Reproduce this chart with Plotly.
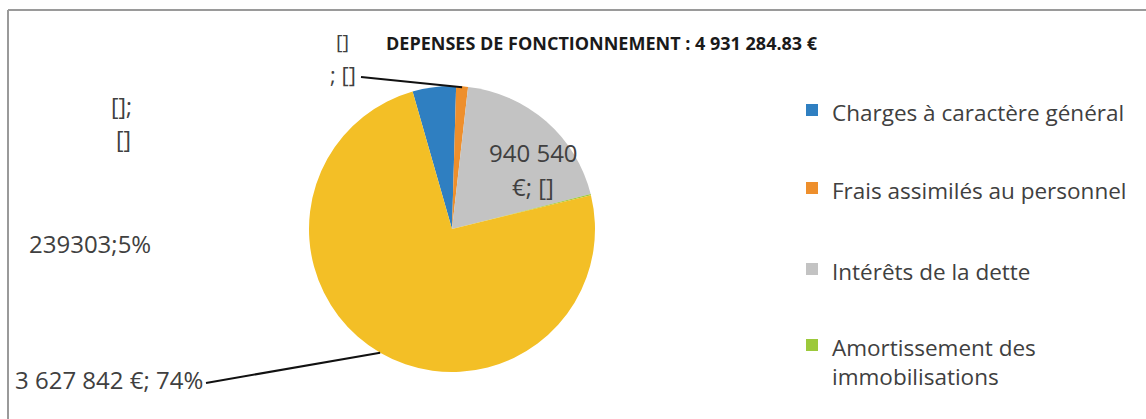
import math
import plotly.graph_objects as go

# ---- data ----
categories = ["Charges à caractère général", "Frais assimilés au personnel",
              "Intérêts de la dette", "Amortissement des immobilisations",
              "Charges de personnel"]
values = [239303, 65000, 940540, 6000, 3627842]
colors = ["#2F7FC1", "#EE8F2C", "#C3C3C3", "#9CC93B", "#F3BF26"]
legend_labels = ["Charges à caractère général", "Frais assimilés au personnel",
                 "Intérêts de la dette", "Amortissement des<br>immobilisations"]
title_text = "DEPENSES DE FONCTIONNEMENT : 4 931 284.83 €"
label_blue = "239303;5%"
label_gray = ["940 540", "€; []"]
label_yellow = "3 627 842 €; 74%"
label_orange = "; []"
label_green = ["[];", "[]"]
label_title_left = "[]"

W, H = 1146, 419
FONT = "Open Sans"
TXT = "#404040"

# pie geometry (pixels)
CX, CY, R = 452, 229, 143
ROT = -16


def px(x):
    return x / W


def py(y):
    return 1 - y / H


fig = go.Figure()
fig.add_trace(go.Pie(
    labels=categories, values=values, sort=False, direction="clockwise",
    rotation=ROT, textinfo="none", hoverinfo="label+value+percent",
    marker=dict(colors=colors, line=dict(width=0)),
    showlegend=False,
    domain=dict(x=[px(CX - R), px(CX + R)], y=[py(CY + R), py(CY - R)]),
))

total = sum(values)


def edge_point(idx):
    start = ROT + sum(values[:idx]) / total * 360
    mid = start + values[idx] / total * 360 / 2
    a = math.radians(mid)
    return CX + R * math.sin(a), CY - R * math.cos(a)


ann = []
shapes = []


def add_text(text, x, y, size=24, xanchor="center", bold=False, color=TXT):
    ann.append(dict(text=f"<b>{text}</b>" if bold else text, x=px(x), y=py(y),
                    xref="paper", yref="paper", showarrow=False,
                    xanchor=xanchor, yanchor="middle",
                    font=dict(family=FONT, size=size, color=color)))


# title
add_text(label_title_left, 343, 42, size=20)
add_text(title_text, 384, 43, size=18, xanchor="left", bold=True, color="#1a1a1a")

# data labels
add_text(label_orange, 343, 74, size=22)
ox, oy = edge_point(1)
shapes.append(dict(type="line", xref="paper", yref="paper",
                   x0=px(361), y0=py(77), x1=px(ox), y1=py(oy + 1),
                   line=dict(color="#111111", width=2)))

add_text(label_green[0], 121, 106, size=23)
add_text(label_green[1], 123, 139, size=23)
add_text(label_blue, 27, 243, size=24, xanchor="left")
add_text(label_gray[0], 533, 152, size=24)
add_text(label_gray[1], 533, 186, size=24)
add_text(label_yellow, 13, 379, size=24, xanchor="left")
yx, yy = edge_point(4)
shapes.append(dict(type="line", xref="paper", yref="paper",
                   x0=px(206), y0=py(383), x1=px(yx), y1=py(yy),
                   line=dict(color="#111111", width=2)))

# legend
leg_y = [110, 188, 269, 345]
for i, lab in enumerate(legend_labels):
    y = leg_y[i]
    shapes.append(dict(type="rect", xref="paper", yref="paper",
                       x0=px(806), x1=px(818), y0=py(y + 6), y1=py(y - 6),
                       fillcolor=colors[i], line=dict(width=0)))
    ann.append(dict(text=lab, x=px(830), y=py(y - 15), xref="paper", yref="paper",
                    showarrow=False, xanchor="left", yanchor="top", align="left",
                    font=dict(family=FONT, size=22.5, color=TXT)))

# chart frame (top & left edges)
shapes.append(dict(type="line", xref="paper", yref="paper",
                   x0=px(8), x1=1, y0=py(10), y1=py(10),
                   line=dict(color="#9a9a9a", width=2)))
shapes.append(dict(type="line", xref="paper", yref="paper",
                   x0=px(8), x1=px(8), y0=py(10), y1=0,
                   line=dict(color="#9a9a9a", width=2)))

fig.update_layout(
    width=W, height=H, margin=dict(l=0, r=0, t=0, b=0),
    paper_bgcolor="white", plot_bgcolor="white",
    annotations=ann, shapes=shapes,
    font=dict(family=FONT, color=TXT),
)
fig.write_html("out.html", config={"displayModeBar": False},
               post_script="document.body.style.margin='0';")
